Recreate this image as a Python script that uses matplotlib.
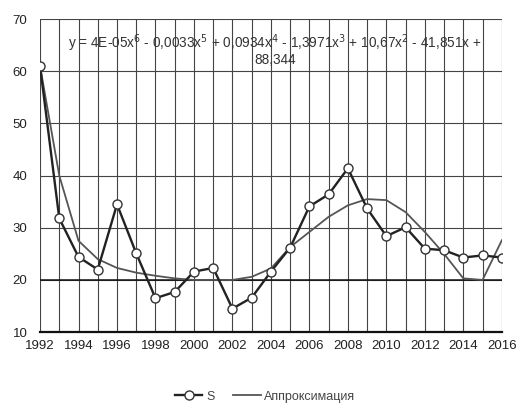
import matplotlib.pyplot as plt

plt.rcParams['font.family'] = ['Liberation Sans', 'DejaVu Sans']

# Data
years = list(range(1992, 2017))
s_values = [61, 31.8, 24.4, 22.0, 34.5, 25.1, 16.5, 17.7, 21.6, 22.3,
            14.5, 16.6, 21.6, 26.2, 34.1, 36.4, 41.4, 33.7, 28.4, 30.1,
            26.0, 25.7, 24.3, 24.7, 24.3]
approx_values = [61, 40.0, 27.5, 24.0, 22.3, 21.4, 20.8, 20.3, 20.0, 20.0,
                 20.0, 20.6, 22.2, 26.3, 29.2, 32.1, 34.3, 35.5, 35.3, 33.0,
                 29.2, 25.0, 20.3, 20.0, 27.6]
x_ticks = list(range(1992, 2017, 2))
y_ticks = [10, 20, 30, 40, 50, 60, 70]

fig = plt.figure(figsize=(5.2, 4.07), dpi=100)
ax = fig.add_axes([0.077, 0.184, 0.888, 0.769])

ax.plot(years, approx_values, color='#555555', linewidth=1.3, label='Аппроксимация', zorder=3)
ax.plot(years, s_values, color='#222222', linewidth=1.7, marker='o', markersize=6.5,
        markerfacecolor='white', markeredgecolor='#333333', markeredgewidth=1.0,
        label='S', zorder=4)

ax.set_xlim(1992, 2016)
ax.set_ylim(10, 70)
ax.set_xticks(x_ticks)
ax.set_yticks(y_ticks)

# Grid: every year vertically, every 10 horizontally
for yr in years:
    ax.axvline(yr, color='#444444', linewidth=0.8, zorder=1)
for v in y_ticks[1:]:
    ax.axhline(v, color='#444444', linewidth=0.8, zorder=1)
ax.axhline(20, color='#111111', linewidth=1.1, zorder=1)

for side in ['top', 'right', 'left']:
    ax.spines[side].set_visible(False)
ax.spines['bottom'].set_linewidth(1.6)
ax.spines['bottom'].set_color('#111111')
ax.tick_params(length=0, labelsize=9.5, colors='#222222', pad=6)
ax.tick_params(axis='y', pad=9)

ax.text(2004.2, 65.4, 'y = 4E-05x$^6$ - 0,0033x$^5$ + 0,0934x$^4$ - 1,3971x$^3$ + 10,67x$^2$ - 41,851x +',
        ha='center', va='center', fontsize=9.8, color='#333333')
ax.text(2004.2, 62.1, '88,344', ha='center', va='center', fontsize=9.8, color='#333333')

handles, labels = ax.get_legend_handles_labels()
fig.legend(handles[::-1], labels[::-1], loc='center', bbox_to_anchor=(0.51, 0.025), ncol=2,
           frameon=False, fontsize=9, handlelength=2.2, columnspacing=1.5, handletextpad=0.3,
           labelcolor='#444444')

plt.savefig('out.png', dpi=100)
